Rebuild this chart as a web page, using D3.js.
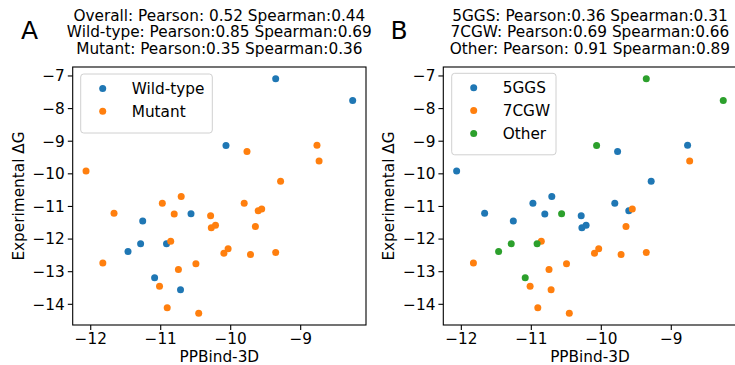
<!DOCTYPE html>
<html>
<head>
<meta charset="utf-8">
<script src="https://cdn.jsdelivr.net/npm/d3@7"></script>
<style>
  html, body { margin: 0; padding: 0; background: #fff; }
  svg text { font-family: "DejaVu Sans", sans-serif; fill: #000; }
</style>
</head>
<body>
<svg id="chart" width="735" height="365"></svg>
<script>
// PPBind-3D prediction vs experimental binding free energy
const ppbind = [-9.35, -8.25, -10.06, -10.56, -11.25, -11.28, -10.91, -11.46, -11.08, -10.71,
  -12.06, -11.66, -11.82, -10.97, -10.70, -10.80, -10.85, -10.74, -11.01, -10.90,
  -10.45, -10.49, -10.28, -10.27, -10.21, -10.09, -10.03, -9.76, -9.80, -9.60,
  -9.55, -9.64, -9.71, -9.35, -9.28, -8.76, -8.73];
const experimental = [-7.10, -7.77, -9.15, -11.24, -11.46, -12.16, -12.16, -12.40, -13.20, -13.57,
  -9.93, -11.22, -12.75, -10.92, -10.71, -11.25, -12.08, -12.95, -13.46, -14.12,
  -14.29, -12.77, -11.30, -11.67, -11.59, -12.45, -12.31, -9.33, -10.92, -11.15,
  -11.09, -11.63, -12.49, -12.43, -10.24, -9.14, -9.62];
const variant = ["Wild-type", "Wild-type", "Wild-type", "Wild-type", "Wild-type", "Wild-type", "Wild-type", "Wild-type", "Wild-type", "Wild-type",
  "Mutant", "Mutant", "Mutant", "Mutant", "Mutant", "Mutant", "Mutant", "Mutant", "Mutant", "Mutant",
  "Mutant", "Mutant", "Mutant", "Mutant", "Mutant", "Mutant", "Mutant", "Mutant", "Mutant", "Mutant",
  "Mutant", "Mutant", "Mutant", "Mutant", "Mutant", "Mutant", "Mutant"];
const complex = ["Other", "Other", "Other", "Other", "5GGS", "Other", "Other", "Other", "Other", "7CGW",
  "5GGS", "5GGS", "7CGW", "5GGS", "5GGS", "5GGS", "7CGW", "7CGW", "7CGW", "7CGW",
  "7CGW", "7CGW", "5GGS", "5GGS", "5GGS", "7CGW", "7CGW", "5GGS", "5GGS", "5GGS",
  "7CGW", "7CGW", "7CGW", "7CGW", "5GGS", "5GGS", "7CGW"];

const variantGroups = ["Wild-type", "Mutant"];
const complexGroups = ["5GGS", "7CGW", "Other"];
const palette = ["#1f77b4", "#ff7f0e", "#2ca02c"];

const titlesA = ["Overall: Pearson: 0.52 Spearman:0.44",
  "Wild-type: Pearson:0.85 Spearman:0.69",
  "Mutant: Pearson:0.35 Spearman:0.36"];
const titlesB = ["5GGS: Pearson:0.36 Spearman:0.31",
  "7CGW: Pearson:0.69 Spearman:0.66",
  "Other: Pearson: 0.91 Spearman:0.89"];
const xTicks = [-12, -11, -10, -9];
const yTicks = [-14, -13, -12, -11, -10, -9, -8, -7];

const svg = d3.select("#chart");
const fmt = d => (d < 0 ? "\u2212" + Math.abs(d) : String(d));

const points = ppbind.map((x, i) => ({ x, y: experimental[i], variant: variant[i], complex: complex[i] }));

// 5% padding around the data extent on both axes
function padded(values) {
  const [lo, hi] = d3.extent(values);
  const m = (hi - lo) * 0.05;
  return [lo - m, hi + m];
}
const xDomain = padded(ppbind);
const yDomain = padded(experimental);

function panel(opts) {
  const { left, width, letter, letterX, titles, groups, key, legend } = opts;
  const top = 67, bottom = 325;
  const x = d3.scaleLinear().domain(xDomain).range([left, left + width]);
  const y = d3.scaleLinear().domain(yDomain).range([bottom, top]);
  const color = d3.scaleOrdinal().domain(groups).range(palette);
  const g = svg.append("g");

  // axes
  const xAxis = g.append("g").attr("transform", `translate(0,${bottom})`)
    .call(d3.axisBottom(x).tickValues(xTicks).tickFormat(fmt).tickSizeInner(4.9).tickSizeOuter(0).tickPadding(3));
  const yAxis = g.append("g").attr("transform", `translate(${left},0)`)
    .call(d3.axisLeft(y).tickValues(yTicks).tickFormat(fmt).tickSizeInner(4.9).tickSizeOuter(0).tickPadding(3));
  [xAxis, yAxis].forEach(a => {
    a.select(".domain").remove();
    a.selectAll(".tick line").attr("stroke", "#000").attr("stroke-width", 1.1);
    a.selectAll(".tick text").attr("font-size", 15.3).attr("font-family", "DejaVu Sans").attr("fill", "#000");
  });
  yAxis.selectAll(".tick text").attr("dy", "0.35em");

  // frame
  g.append("rect").attr("x", left).attr("y", top).attr("width", width).attr("height", bottom - top)
    .attr("fill", "none").attr("stroke", "#000").attr("stroke-width", 1.1);

  // points, drawn group by group
  groups.forEach(grp => {
    g.append("g").selectAll("circle").data(points.filter(p => p[key] === grp)).join("circle")
      .attr("cx", d => x(d.x)).attr("cy", d => y(d.y)).attr("r", 3.5)
      .attr("fill", color(grp));
  });

  // legend
  const lg = g.append("g");
  lg.append("rect").attr("x", legend.x).attr("y", legend.y).attr("width", legend.w)
    .attr("height", 14 + groups.length * 22.5).attr("rx", 3)
    .attr("fill", "#fff").attr("fill-opacity", 0.8).attr("stroke", "#d0d0d0").attr("stroke-width", 1);
  groups.forEach((grp, i) => {
    const cy = legend.y + 14.5 + i * 22.8;
    lg.append("circle").attr("cx", legend.x + 22).attr("cy", cy).attr("r", 3.5).attr("fill", color(grp));
    lg.append("text").attr("x", legend.x + 51).attr("y", cy + 5.5).attr("font-size", 15.3).text(grp);
  });

  // labels
  g.append("text").attr("x", left + width / 2).attr("y", 361.5).attr("text-anchor", "middle")
    .attr("font-size", 15.3).text("PPBind-3D");
  g.append("text").attr("transform", `translate(${left - 49},${(top + bottom) / 2}) rotate(-90)`)
    .attr("text-anchor", "middle").attr("font-size", 15.3).text("Experimental \u0394G");
  titles.forEach((t, i) => {
    g.append("text").attr("x", left + width / 2).attr("y", 20.7 + i * 16.4)
      .attr("text-anchor", "middle").attr("font-size", 15.3).text(t);
  });
  g.append("text").attr("x", letterX).attr("y", 39.3).attr("font-size", 25).text(letter);
}

panel({ left: 72.7, width: 293.3, letter: "A", letterX: 21, titles: titlesA,
  groups: variantGroups, key: "variant", legend: { x: 80.7, y: 74, w: 131.6 } });
panel({ left: 443.3, width: 293.3, letter: "B", letterX: 390.5, titles: titlesB,
  groups: complexGroups, key: "complex", legend: { x: 451.7, y: 73.3, w: 104.3 } });
</script>
</body>
</html>
